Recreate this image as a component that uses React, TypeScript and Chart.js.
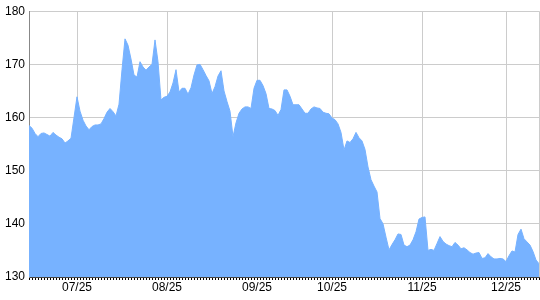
import React, { useEffect, useRef } from "react";
import { Chart, registerables } from "chart.js";

Chart.register(...registerables);

const values: number[] = [
  158.5, 158.0, 157.0, 156.4, 157.0, 157.1, 156.8, 156.5, 157.2, 156.7,
  156.3, 156.0, 155.2, 155.6, 156.1, 160.0, 163.9, 161.2, 159.5, 158.4,
  157.7, 158.3, 158.6, 158.6, 158.8, 159.8, 161.0, 161.7, 161.1, 160.3,
  162.5, 169.0, 174.8, 173.6, 171.0, 168.0, 167.6, 170.5, 169.5, 168.9,
  169.5, 170.0, 174.6, 170.5, 163.3, 163.8, 164.0, 164.8, 166.5, 169.0,
  164.8, 165.5, 165.5, 164.4, 165.6, 168.0, 169.9, 170.0, 169.0, 167.9,
  166.9, 164.5, 165.8, 167.8, 168.8, 165.0, 163.0, 161.2, 156.4, 159.0,
  160.8, 161.6, 162.0, 162.0, 161.7, 165.5, 167.0, 167.0, 166.0, 164.5,
  161.7, 161.6, 161.3, 160.4, 161.5, 165.2, 165.2, 164.0, 162.4, 162.4,
  162.4, 161.6, 160.8, 160.8, 161.6, 162.0, 161.8, 161.7, 161.0, 160.8,
  160.7, 159.9, 159.6, 158.8, 157.2, 153.9, 155.6, 155.3, 156.0, 157.2,
  156.2, 155.6, 154.0, 150.7, 148.3, 147.1, 146.0, 141.0, 140.0, 137.5,
  135.1, 136.1, 137.0, 138.1, 138.0, 136.0, 135.7, 136.0, 137.0, 138.5,
  140.9, 141.2, 141.3, 135.0, 135.2, 135.0, 136.3, 137.6, 136.7, 136.2,
  135.9, 135.7, 136.5, 136.0, 135.3, 135.5, 135.1, 134.6, 134.3, 134.5,
  134.6, 133.5, 133.6, 134.4, 133.8, 133.4, 133.4, 133.5, 133.4, 132.9,
  134.0, 134.9, 134.7, 138.0, 139.0, 137.2, 136.6, 136.0, 134.8, 133.2,
  132.5,
];

const tickLabels: string[] = ["07/25", "08/25", "09/25", "10/25", "11/25", "12/25"];
const tickIndices: number[] = [16, 46, 76, 101, 131, 159];

const yMin = 130;
const yMax = 180;
const yStep = 10;

export default function App() {
  const ref = useRef<HTMLCanvasElement | null>(null);

  useEffect(() => {
    if (!ref.current) return;
    const labels = values.map((_, i) => {
      const k = tickIndices.indexOf(i);
      return k >= 0 ? tickLabels[k] : "";
    });
    const last = values.length - 1;
    const chart = new Chart(ref.current, {
      type: "line",
      data: {
        labels,
        datasets: [
          {
            data: values,
            fill: "start",
            backgroundColor: "#77b2ff",
            borderColor: "#77b2ff",
            borderWidth: 1,
            pointRadius: 0,
            tension: 0,
          },
        ],
      },
      options: {
        animation: false,
        responsive: false,
        maintainAspectRatio: false,
        layout: { padding: { top: 6, right: 1, left: 0, bottom: 0 } },
        plugins: { legend: { display: false }, tooltip: { enabled: false } },
        scales: {
          x: {
            type: "category",
            offset: false,
            afterFit: (s: any) => {
              s.height = 23;
            },
            grid: {
              color: (ctx: any) =>
                (ctx.tick && ctx.tick.label) || ctx.index === last ? "#cccccc" : "rgba(0,0,0,0)",
              tickColor: "#000000",
              tickLength: 3,
              drawOnChartArea: true,
              drawTicks: true,
            },
            border: { display: true, color: "#444444" },
            ticks: {
              autoSkip: false,
              maxRotation: 0,
              minRotation: 0,
              padding: 0,
              color: "#000000",
              font: { family: "'Liberation Sans', Arial, sans-serif", size: 12 },
            },
          },
          y: {
            min: yMin,
            max: yMax,
            afterFit: (s: any) => {
              s.width = 29;
            },
            grid: { color: "#cccccc", drawTicks: false },
            border: { display: true, color: "#888888" },
            ticks: {
              stepSize: yStep,
              padding: 4,
              color: "#000000",
              font: { family: "'Liberation Sans', Arial, sans-serif", size: 12 },
            },
          },
        },
      },
    });
    return () => chart.destroy();
  }, []);

  return (
    <div style={{ position: "fixed", left: 0, top: 0, width: 540, height: 300, background: "#fff" }}>
      <canvas ref={ref} width={540} height={300} style={{ width: 540, height: 300 }} />
    </div>
  );
}
